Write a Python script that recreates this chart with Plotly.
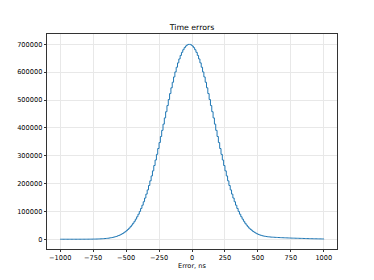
import plotly.graph_objects as go

# Histogram of timing errors (ns), 10 ns bins from -1000 to 1000
bin_start = -1000
bin_width = 10

counts = [
    # -1000 .. -30
    1, 2, 2, 3, 4, 5, 6, 8, 10, 13,
    17, 22, 28, 35, 45, 56, 70, 88, 110, 137,
    171, 211, 261, 321, 394, 482, 589, 720, 870, 1050,
    1270, 1530, 1840, 2200, 2630, 3130, 3720, 4400, 5190, 6120,
    7190, 8410, 9830, 11440, 13290, 15390, 17770, 20470, 23510, 26920,
    30760, 35030, 39780, 45060, 50900, 57350, 64430, 72180, 80650, 89850,
    99830, 110610, 122200, 134650, 147930, 162090, 177110, 193000, 209700, 227260,
    245600, 264680, 284440, 304830, 325770, 347200, 369010, 391120, 413400, 435740,
    458010, 480090, 501850, 523150, 543840, 563780, 582840, 600870, 617750, 633340,
    647540, 660210, 671280, 680640, 688220, 693970, 697820, 699760,
    # -20 .. 990
    699760, 697820, 693970, 688220, 680640, 671280, 660210, 647540, 633340, 617750,
    600870, 582840, 563780, 543840, 523150, 501850, 480090, 458010, 435740, 413400,
    391120, 369010, 347200, 325770, 304830, 284440, 264680, 245600, 227260, 209700,
    193000, 177110, 162090, 147930, 134650, 122200, 110610, 99830, 89850, 80650,
    72180, 64430, 57350, 50900, 45060, 39780,
    35500, 32000, 27900, 25000, 22000, 19500, 17300, 15500, 13900, 12500,
    11400, 10500, 9700, 9000, 8500, 8000, 7600, 7300, 7000, 6700,
    6450, 6200, 5950, 5700, 5500, 5300, 5100, 4900, 4700, 4500,
    4300, 4100, 3950, 3800, 3650, 3500, 3350, 3200, 3050, 2900,
    2750, 2600, 2450, 2300, 2150, 2000, 1900, 1800, 1700, 1600,
    1500, 1400, 1300, 1200, 1100, 1000,
]

x_ticks = [-1000, -750, -500, -250, 0, 250, 500, 750, 1000]
y_ticks = [0, 100000, 200000, 300000, 400000, 500000, 600000, 700000]
title_text = "Time errors"
x_label = "Error, ns"

n_bins = len(counts)
edges = [bin_start + bin_width * i for i in range(n_bins + 1)]

# step outline like histtype='step'
xs = [edges[0]] + edges[:n_bins] + [edges[n_bins]]
ys = [0] + counts + [0]

fig = go.Figure()
fig.add_trace(go.Scatter(
    x=xs, y=ys, mode="lines",
    line=dict(color="#1f77b4", width=1.0, shape="hv"),
    hoverinfo="skip", showlegend=False,
))

font_family = "DejaVu Sans"
axis_common = dict(
    showline=True, linecolor="#333333", linewidth=0.7, mirror=True,
    ticks="outside", ticklen=2.5, tickwidth=0.7, tickcolor="#333333",
    showgrid=True, gridcolor="#e8e8e8", gridwidth=0.8,
    zeroline=False, automargin=False,
    tickfont=dict(family=font_family, size=6.6, color="#000000"),
)

# page body has an 8px margin, so the figure is offset by 8px
fig.update_layout(
    width=366, height=272,
    margin=dict(l=39, r=37, t=26, b=31, pad=0),
    paper_bgcolor="white", plot_bgcolor="white",
    title=dict(
        text=title_text, x=0.5, xanchor="center", xref="paper",
        y=1 - 22 / 272, yref="container", yanchor="bottom",
        font=dict(family=font_family, size=7.8, color="#000000"),
    ),
    xaxis=dict(
        range=[-1100, 1100], tickvals=x_ticks,
        title=dict(text=x_label, standoff=2,
                   font=dict(family=font_family, size=6.6, color="#000000")),
        **axis_common,
    ),
    yaxis=dict(
        range=[-35100, 737100], tickvals=y_ticks, tickformat="d",
        **axis_common,
    ),
)

fig.write_html("out.html")
